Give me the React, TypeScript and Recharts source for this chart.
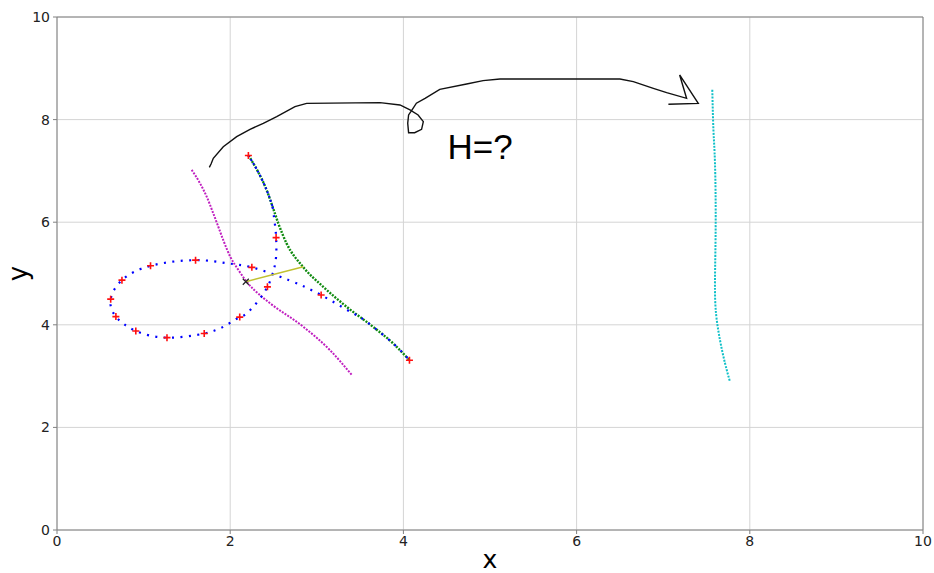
import React from 'react';
import {
  ComposedChart,
  Line,
  Scatter,
  XAxis,
  YAxis,
  CartesianGrid,
  ReferenceLine,
} from 'recharts';

type Pt = { x: number; y: number };

const xTicks = [0, 2, 4, 6, 8, 10];
const yTicks = [0, 2, 4, 6, 8, 10];

// Blue trajectory: dense start along the green track, then the sparse loop
const blueHead: Pt[] = [
  { x: 2.21, y: 7.3 },
  { x: 2.31, y: 7.02 },
  { x: 2.42, y: 6.63 },
  { x: 2.49, y: 6.3 },
];

const blueLoop: Pt[] = [
  { x: 2.49, y: 6.3 },
  { x: 2.52, y: 5.91 },
  { x: 2.53, y: 5.7 },
  { x: 2.53, y: 5.33 },
  { x: 2.49, y: 4.99 },
  { x: 2.43, y: 4.74 },
  { x: 2.33, y: 4.48 },
  { x: 2.19, y: 4.22 },
  { x: 2.11, y: 4.15 },
  { x: 1.94, y: 3.98 },
  { x: 1.7, y: 3.83 },
  { x: 1.27, y: 3.75 },
  { x: 0.91, y: 3.88 },
  { x: 0.68, y: 4.16 },
  { x: 0.62, y: 4.5 },
  { x: 0.75, y: 4.87 },
  { x: 1.08, y: 5.15 },
  { x: 1.6, y: 5.26 },
  { x: 1.96, y: 5.2 },
  { x: 2.25, y: 5.12 },
  { x: 2.68, y: 4.87 },
  { x: 3.05, y: 4.58 },
  { x: 3.36, y: 4.28 },
  { x: 3.5, y: 4.15 },
  { x: 3.65, y: 3.96 },
  { x: 3.88, y: 3.64 },
  { x: 4.07, y: 3.31 },
];

const greenPath: Pt[] = [
  { x: 2.21, y: 7.3 },
  { x: 2.31, y: 7.02 },
  { x: 2.42, y: 6.63 },
  { x: 2.49, y: 6.3 },
  { x: 2.555, y: 5.98 },
  { x: 2.65, y: 5.59 },
  { x: 2.84, y: 5.13 },
  { x: 3.075, y: 4.74 },
  { x: 3.345, y: 4.35 },
  { x: 3.65, y: 3.96 },
  { x: 3.88, y: 3.64 },
  { x: 4.07, y: 3.31 },
];

const magentaPath: Pt[] = [
  { x: 1.555, y: 7.02 },
  { x: 1.651, y: 6.76 },
  { x: 1.728, y: 6.5 },
  { x: 1.805, y: 6.17 },
  { x: 1.863, y: 5.91 },
  { x: 1.92, y: 5.65 },
  { x: 2.0, y: 5.33 },
  { x: 2.094, y: 5.07 },
  { x: 2.19, y: 4.84 },
  { x: 2.364, y: 4.55 },
  { x: 2.46, y: 4.42 },
  { x: 2.845, y: 3.96 },
  { x: 3.15, y: 3.51 },
  { x: 3.41, y: 3.01 },
];

const cyanPath: Pt[] = [
  { x: 7.567, y: 8.58 },
  { x: 7.58, y: 7.8 },
  { x: 7.598, y: 7.15 },
  { x: 7.606, y: 5.98 },
  { x: 7.598, y: 4.87 },
  { x: 7.61, y: 4.22 },
  { x: 7.656, y: 3.7 },
  { x: 7.714, y: 3.25 },
  { x: 7.771, y: 2.89 },
];

const yellowLink: Pt[] = [
  { x: 2.18, y: 4.84 },
  { x: 2.845, y: 5.13 },
];

// Hand-drawn arrow: arc, small loop, long arc, arrowhead
const arrowPath: Pt[] = [
  { x: 1.759, y: 7.07 },
  { x: 1.78, y: 7.14 },
  { x: 1.805, y: 7.245 },
  { x: 1.92, y: 7.472 },
  { x: 2.075, y: 7.667 },
  { x: 2.229, y: 7.81 },
  { x: 2.382, y: 7.927 },
  { x: 2.537, y: 8.057 },
  { x: 2.748, y: 8.252 },
  { x: 2.883, y: 8.317 },
  { x: 3.73, y: 8.33 },
  { x: 3.96, y: 8.285 },
  { x: 4.076, y: 8.19 },
  { x: 4.17, y: 8.09 },
  { x: 4.23, y: 7.96 },
  { x: 4.21, y: 7.81 },
  { x: 4.13, y: 7.745 },
  { x: 4.06, y: 7.745 },
  { x: 4.05, y: 7.93 },
  { x: 4.06, y: 8.09 },
  { x: 4.1, y: 8.19 },
  { x: 4.15, y: 8.32 },
  { x: 4.25, y: 8.415 },
  { x: 4.42, y: 8.59 },
  { x: 4.73, y: 8.694 },
  { x: 4.92, y: 8.76 },
  { x: 5.115, y: 8.79 },
  { x: 6.5, y: 8.79 },
  { x: 6.655, y: 8.74 },
  { x: 6.886, y: 8.61 },
  { x: 7.04, y: 8.525 },
  { x: 7.27, y: 8.415 },
  { x: 7.19, y: 8.87 },
  { x: 7.405, y: 8.317 },
  { x: 7.06, y: 8.3 },
];

const redMarks: Pt[] = [
  { x: 2.21, y: 7.3 },
  { x: 2.53, y: 5.7 },
  { x: 2.43, y: 4.74 },
  { x: 2.11, y: 4.15 },
  { x: 1.7, y: 3.83 },
  { x: 1.27, y: 3.75 },
  { x: 0.91, y: 3.88 },
  { x: 0.68, y: 4.16 },
  { x: 0.62, y: 4.5 },
  { x: 0.75, y: 4.87 },
  { x: 1.08, y: 5.15 },
  { x: 1.6, y: 5.26 },
  { x: 2.25, y: 5.12 },
  { x: 3.05, y: 4.58 },
  { x: 4.07, y: 3.31 },
];

const crossMark: Pt[] = [{ x: 2.18, y: 4.84 }];

const notes = [{ x: 4.885, y: 7.47, text: 'H=?' }];

const FONT = 'DejaVu Sans, sans-serif';

const PlusShape = (p: any) => (
  <path
    d={`M${p.cx - 3.5},${p.cy}h7M${p.cx},${p.cy - 3.5}v7`}
    stroke="#ff1010"
    strokeWidth={1.6}
    fill="none"
  />
);

const CrossShape = (p: any) => (
  <path
    d={`M${p.cx - 3},${p.cy - 3}l6,6M${p.cx - 3},${p.cy + 3}l6,-6`}
    stroke="#222"
    strokeWidth={1.2}
    fill="none"
  />
);

const NoteShape = (p: any) => (
  <text
    x={p.cx}
    y={p.cy}
    textAnchor="middle"
    dominantBaseline="central"
    fontFamily="Liberation Sans, Arial, sans-serif"
    fontSize={35}
    fill="#000"
  >
    {p.payload.text}
  </text>
);

const xTitle = (props: any) => {
  const vb = props.viewBox;
  return (
    <text
      x={vb.x + vb.width / 2}
      y={vb.y + 29}
      textAnchor="middle"
      dominantBaseline="central"
      fontFamily={FONT}
      fontSize={25}
      fill="#000"
    >
      x
    </text>
  );
};

const yTitle = (props: any) => {
  const vb = props.viewBox;
  const cx = vb.x + 18;
  const cy = vb.y + vb.height / 2;
  return (
    <text
      x={cx}
      y={cy}
      transform={`rotate(-90, ${cx}, ${cy})`}
      textAnchor="middle"
      dominantBaseline="central"
      fontFamily={FONT}
      fontSize={26}
      fill="#000"
    >
      y
    </text>
  );
};

const tickStyle = { fontSize: 14, fill: '#222', fontFamily: FONT };

export default function App() {
  return (
    <div style={{ position: 'absolute', left: 0, top: 0 }}>
      <ComposedChart
        width={934}
        height={573}
        margin={{ top: 17, right: 11, bottom: 0, left: 0 }}
        style={{ background: '#fff' }}
      >
        <CartesianGrid stroke="#d4d4d4" strokeWidth={1} />
        <XAxis
          dataKey="x"
          type="number"
          domain={[0, 10]}
          ticks={xTicks}
          allowDataOverflow
          height={43}
          stroke="#808080"
          tickSize={4}
          tickMargin={2}
          tick={tickStyle}
          label={xTitle}
        />
        <YAxis
          dataKey="y"
          type="number"
          domain={[0, 10]}
          ticks={yTicks}
          allowDataOverflow
          width={57}
          stroke="#808080"
          tickSize={4}
          tickMargin={3}
          tick={tickStyle}
          label={yTitle}
        />
        <ReferenceLine y={10} stroke="#808080" />
        <ReferenceLine x={10} stroke="#808080" />

        <Line
          data={arrowPath}
          dataKey="y"
          type="linear"
          stroke="#111"
          strokeWidth={1.4}
          dot={false}
          activeDot={false}
          isAnimationActive={false}
        />
        <Line
          data={magentaPath}
          dataKey="y"
          type="monotoneX"
          stroke="#c020c0"
          strokeWidth={2}
          strokeDasharray="2 1.3"
          dot={false}
          activeDot={false}
          isAnimationActive={false}
        />
        <Line
          data={greenPath}
          dataKey="y"
          type="monotoneX"
          stroke="#108a10"
          strokeWidth={2.4}
          strokeDasharray="2 1.3"
          dot={false}
          activeDot={false}
          isAnimationActive={false}
        />
        <Line
          data={blueHead}
          dataKey="y"
          type="natural"
          stroke="#0000ff"
          strokeWidth={2}
          strokeDasharray="2 2.5"
          dot={false}
          activeDot={false}
          isAnimationActive={false}
        />
        <Line
          data={blueLoop}
          dataKey="y"
          type="natural"
          stroke="#0000ff"
          strokeWidth={2.2}
          strokeDasharray="2 6.4"
          dot={false}
          activeDot={false}
          isAnimationActive={false}
        />
        <Line
          data={cyanPath}
          dataKey="y"
          type="natural"
          stroke="#10c0c8"
          strokeWidth={2}
          strokeDasharray="2 1.3"
          dot={false}
          activeDot={false}
          isAnimationActive={false}
        />
        <Line
          data={yellowLink}
          dataKey="y"
          type="linear"
          stroke="#c0c030"
          strokeWidth={1.5}
          dot={false}
          activeDot={false}
          isAnimationActive={false}
        />
        <Scatter data={redMarks} shape={PlusShape} isAnimationActive={false} />
        <Scatter data={crossMark} shape={CrossShape} isAnimationActive={false} />
        <Scatter data={notes} shape={NoteShape} isAnimationActive={false} />
      </ComposedChart>
    </div>
  );
}
